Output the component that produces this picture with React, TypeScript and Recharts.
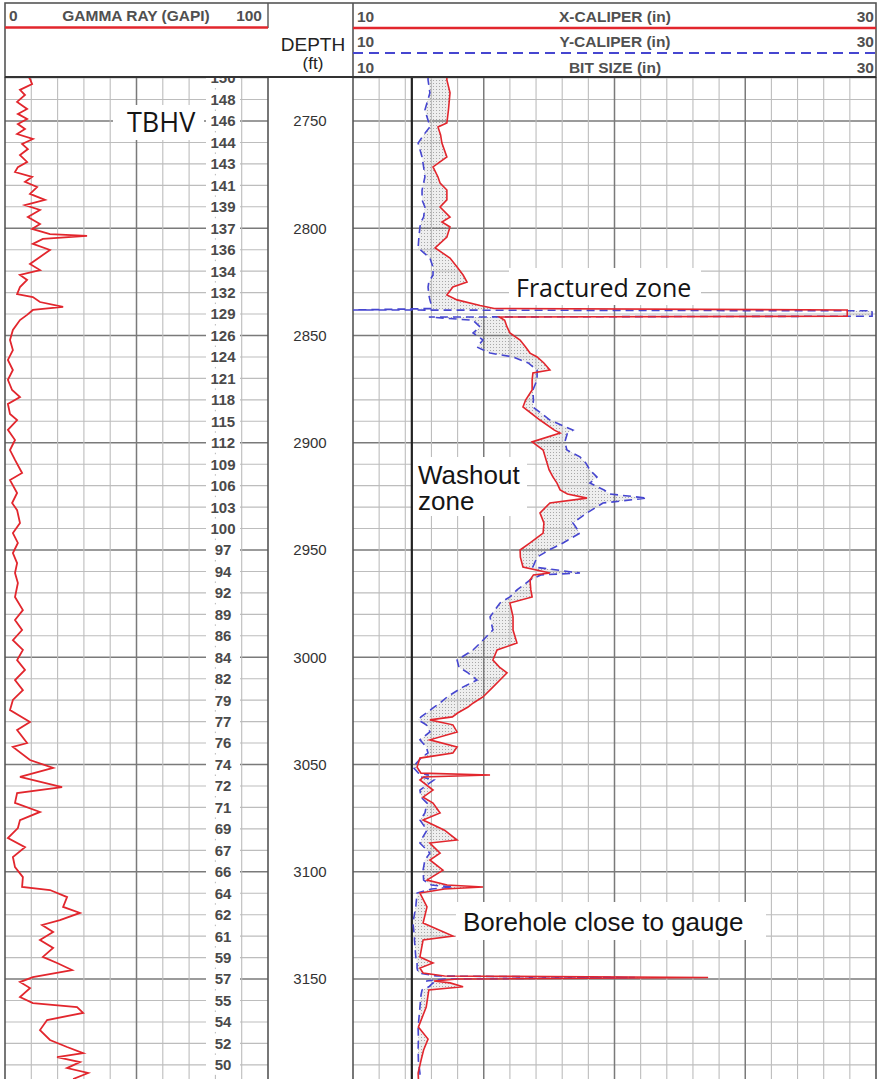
import { Area, ComposedChart, Line, ReferenceLine, XAxis, YAxis } from "recharts"

const RED = "#e2262d"
const BLUE = "#4646d0"
const THIN = "#bdbdbd"
const THICK = "#7a7a7a"
const BORDER = "#555555"
const SANS = "'Liberation Sans', Arial, sans-serif"
const OPEN = "'Open Sans', 'Liberation Sans', sans-serif"

const depthTop = 2729.5
const depthBottom = 3196.6
const bitSize = 12.25

// 10 ft grid, each line carries a TBHV reading
const gridDepths = [
  2730, 2740, 2750, 2760, 2770, 2780, 2790, 2800, 2810, 2820, 2830, 2840, 2850, 2860, 2870, 2880,
  2890, 2900, 2910, 2920, 2930, 2940, 2950, 2960, 2970, 2980, 2990, 3000, 3010, 3020, 3030, 3040,
  3050, 3060, 3070, 3080, 3090, 3100, 3110, 3120, 3130, 3140, 3150, 3160, 3170, 3180, 3190
]
const tbhvLabels = [
  150, 148, 146, 144, 143, 141, 139, 137, 136, 134, 132, 129, 126, 124, 121, 118,
  115, 112, 109, 106, 103, 100, 97, 94, 92, 89, 86, 84, 82, 79, 77, 76,
  74, 72, 71, 69, 67, 66, 64, 62, 61, 59, 57, 55, 54, 52, 50
]
const depthLabels = [2750, 2800, 2850, 2900, 2950, 3000, 3050, 3100, 3150]
const gammaTicks = [0, 10, 20, 30, 40, 50, 60, 70, 80, 90, 100]
const caliperTicks = [10, 11, 12, 13, 14, 15, 16, 17, 18, 19, 20, 21, 22, 23, 24, 25, 26, 27, 28, 29, 30]

// [depth ft, GAPI]
const gammaRay = [
  [2729.5, 9.0], [2730.4, 9.5], [2732.8, 10.3], [2735.5, 5.7], [2737.9, 7.6], [2741.1, 4.6],
  [2744.4, 8.4], [2746.7, 4.9], [2749.1, 8.4], [2751.4, 4.9], [2753.7, 7.6], [2756.1, 4.6],
  [2758.4, 10.6], [2760.7, 6.5], [2763.1, 8.7], [2765.9, 5.7], [2769.1, 8.4], [2771.5, 4.9],
  [2773.8, 3.8], [2776.1, 10.3], [2778.4, 7.6], [2780.8, 12.2], [2784.0, 9.5], [2786.8, 15.2],
  [2789.2, 7.6], [2791.5, 13.3], [2794.8, 8.7], [2798.0, 13.3], [2800.3, 10.3], [2802.7, 17.1],
  [2803.6, 31.2], [2805.0, 14.4], [2807.3, 10.6], [2810.1, 17.1], [2813.4, 13.3], [2816.7, 9.5],
  [2819.5, 13.3], [2821.8, 5.7], [2824.1, 8.4], [2827.4, 5.7], [2830.7, 4.6], [2832.1, 10.6],
  [2834.4, 13.3], [2836.7, 22.1], [2838.1, 10.6], [2840.4, 8.4], [2842.8, 5.7], [2847.4, 3.0],
  [2852.1, 1.9], [2856.8, 3.0], [2861.4, 1.1], [2866.1, 3.0], [2870.7, 1.1], [2875.4, 2.7],
  [2878.7, 5.7], [2881.9, 1.1], [2886.6, 1.9], [2889.4, 4.6], [2894.0, 1.1], [2898.7, 3.8],
  [2903.4, 1.9], [2908.0, 3.8], [2914.1, 6.5], [2917.4, 1.9], [2923.4, 4.6], [2928.1, 2.7],
  [2931.4, 4.6], [2937.4, 5.7], [2942.1, 3.0], [2946.7, 4.9], [2951.4, 3.0], [2956.1, 4.6],
  [2960.7, 3.8], [2965.4, 4.9], [2971.9, 3.8], [2978.0, 6.8], [2982.6, 3.8], [2987.3, 6.5],
  [2992.0, 3.0], [2996.6, 6.8], [3001.3, 4.6], [3005.9, 7.6], [3010.6, 3.8], [3015.3, 6.8],
  [3019.9, 3.0], [3024.6, 1.9], [3030.2, 9.5], [3033.9, 4.6], [3040.0, 8.4], [3041.8, 3.0],
  [3047.9, 9.5], [3051.6, 18.3], [3055.8, 5.7], [3060.5, 21.7], [3063.3, 4.6], [3067.9, 3.8],
  [3072.1, 13.3], [3075.9, 5.7], [3079.6, 4.9], [3084.3, 1.1], [3088.5, 7.6], [3093.1, 3.0],
  [3097.8, 3.8], [3102.5, 6.8], [3107.1, 6.5], [3108.5, 17.1], [3111.8, 23.6], [3116.4, 22.1],
  [3119.2, 28.5], [3122.5, 20.9], [3124.8, 14.1], [3128.1, 18.3], [3131.8, 13.3], [3135.5, 18.3],
  [3139.7, 14.4], [3142.5, 19.8], [3145.8, 25.5], [3149.1, 10.6], [3151.4, 5.7], [3154.2, 9.5],
  [3158.4, 5.7], [3161.2, 10.6], [3163.1, 27.4], [3165.8, 29.7], [3169.1, 16.0], [3173.8, 13.3],
  [3178.4, 17.1], [3181.7, 23.6], [3184.5, 29.7], [3186.4, 19.8], [3188.7, 28.5], [3191.5, 23.6],
  [3193.8, 31.6], [3196.6, 25.9]
]

// [depth ft, X-caliper in, Y-caliper in]
const caliper = [
  [2729.5, 13.59, 12.87], [2730.9, 13.59, 12.87], [2736.9, 13.71, 12.94], [2744.9, 13.65, 12.75],
  [2750.9, 13.59, 12.9], [2752.8, 13.25, 12.94], [2756.5, 13.35, 12.7], [2760.3, 13.4, 12.49],
  [2766.8, 13.59, 12.64], [2771.4, 13.06, 12.7], [2776.1, 13.25, 12.75], [2778.9, 13.33, 12.7],
  [2782.2, 13.59, 12.64], [2786.8, 13.59, 12.64], [2790.1, 13.33, 12.75], [2794.8, 13.71, 12.7],
  [2797.1, 13.4, 12.6], [2799.4, 13.71, 12.56], [2804.1, 13.59, 12.52], [2809.2, 13.14, 12.49],
  [2813.9, 13.71, 12.94], [2818.1, 13.98, 13.06], [2821.8, 14.21, 13.06], [2825.1, 14.36, 12.9],
  [2827.4, 13.82, 12.87], [2831.1, 13.59, 12.9], [2833.4, 13.98, 12.94], [2836.0, 14.86, 13.0],
  [2837.4, 15.4, 13.0], [2838.1, 28.9, 10.0], [2838.5, 28.9, 29.85], [2841.0, 28.9, 29.85],
  [2841.4, 15.6, 12.9], [2842.9, 15.8, 14.59], [2846.0, 15.89, 14.86], [2848.8, 16.0, 14.59],
  [2852.1, 16.39, 14.97], [2855.4, 16.6, 14.74], [2858.2, 16.77, 15.24], [2860.0, 17.04, 16.12],
  [2862.8, 17.3, 16.7], [2866.1, 17.53, 17.04], [2867.5, 16.88, 17.04], [2870.7, 16.85, 17.04],
  [2875.4, 16.85, 16.88], [2880.1, 16.6, 16.9], [2883.3, 16.5, 16.88], [2889.4, 17.15, 17.53],
  [2894.1, 17.7, 18.41], [2895.5, 17.92, 18.2], [2899.6, 16.85, 18.1], [2903.4, 17.27, 18.18],
  [2906.6, 17.35, 18.68], [2909.4, 17.42, 18.9], [2912.7, 17.5, 19.06], [2916.0, 17.65, 19.33],
  [2918.8, 17.8, 19.06], [2922.0, 17.92, 19.6], [2923.9, 18.2, 19.83], [2925.8, 18.95, 21.24],
  [2928.1, 17.53, 19.56], [2932.7, 17.15, 18.95], [2937.4, 17.3, 18.41], [2942.1, 17.27, 18.68],
  [2946.7, 16.77, 18.03], [2950.0, 16.39, 17.5], [2953.3, 16.4, 17.04], [2957.9, 16.5, 16.88],
  [2960.7, 17.53, 18.68], [2961.6, 16.9, 17.2], [2964.0, 16.77, 16.77], [2968.6, 16.8, 16.27],
  [2971.9, 16.85, 16.0], [2974.7, 16.0, 15.62], [2981.2, 16.12, 15.24], [2987.3, 16.12, 15.35],
  [2993.4, 16.27, 14.86], [2996.6, 15.51, 14.59], [3001.3, 15.35, 13.98], [3004.6, 15.6, 14.05],
  [3007.3, 15.89, 14.4], [3010.6, 15.62, 14.74], [3013.9, 15.35, 14.2], [3018.5, 14.97, 13.6],
  [3021.3, 14.6, 13.33], [3023.2, 14.4, 13.1], [3026.0, 14.0, 12.8], [3027.8, 13.8, 12.6],
  [3029.2, 12.94, 12.5], [3031.5, 13.82, 12.8], [3034.8, 13.98, 12.94], [3038.5, 12.94, 12.56],
  [3041.8, 13.98, 12.8], [3044.6, 13.82, 12.87], [3047.0, 12.56, 12.6], [3051.2, 12.45, 12.29],
  [3054.0, 12.6, 12.5], [3054.9, 15.24, 12.9], [3055.8, 12.7, 12.6], [3057.2, 12.56, 13.1],
  [3061.9, 13.06, 12.56], [3065.2, 12.68, 12.6], [3068.0, 13.06, 12.83], [3072.6, 13.33, 12.75],
  [3075.9, 12.68, 12.56], [3080.6, 13.5, 12.83], [3085.2, 13.98, 12.6], [3086.6, 12.94, 12.56],
  [3091.3, 13.33, 12.94], [3094.5, 12.94, 12.75], [3099.2, 13.44, 12.68], [3103.9, 12.83, 12.7],
  [3106.2, 13.6, 13.0], [3107.1, 14.97, 13.82], [3108.0, 13.5, 13.0], [3109.9, 12.56, 12.45],
  [3116.4, 12.83, 12.4], [3123.9, 12.68, 12.29], [3130.0, 13.82, 12.35], [3131.8, 12.68, 12.35],
  [3139.7, 12.56, 12.4], [3142.5, 13.06, 12.45], [3144.9, 12.56, 12.45], [3147.2, 12.68, 12.5],
  [3148.6, 13.5, 13.2], [3149.3, 23.58, 20.78], [3150.0, 14.0, 13.5], [3150.9, 13.1, 12.8],
  [3151.8, 13.71, 13.06], [3153.6, 14.21, 12.9], [3155.1, 12.9, 12.64], [3157.5, 12.87, 12.6],
  [3163.1, 12.8, 12.56], [3172.4, 12.5, 12.49], [3178.0, 12.87, 12.5], [3183.1, 12.7, 12.49],
  [3188.0, 12.6, 12.5], [3193.8, 12.49, 12.56], [3196.6, 12.5, 12.56]
]

const gammaData = gammaRay.map(([depth, gr]) => ({ depth, gr }))
const caliperData = caliper.map(([depth, x, y]) => ({ depth, x, y }))

function TbhvTick(props: any) {
  const { x, y, payload } = props
  const label = tbhvLabels[gridDepths.indexOf(payload.value)]
  return (
    <g>
      <rect x={x - 62} y={y - 10} width={34} height={20} fill="#fff" />
      <text x={x - 45} y={y} dy="0.36em" textAnchor="middle" fontFamily={SANS} fontSize={15} fontWeight="bold" fill="#4a4a4a">
        {label}
      </text>
    </g>
  )
}

function DepthTick(props: any) {
  const { x, y, payload } = props
  return (
    <text x={x - 43} y={y} dy="0.36em" textAnchor="middle" fontFamily={SANS} fontSize={15} fill="#333">
      {payload.value}
    </text>
  )
}

function gridStyle(isEdge: boolean, isMajor: boolean) {
  if (isEdge) return { stroke: BORDER, strokeWidth: 1.6 }
  if (isMajor) return { stroke: THICK, strokeWidth: 1.5 }
  return { stroke: THIN, strokeWidth: 1.1 }
}

function GammaTrack() {
  return (
    <ComposedChart width={273} height={1002} data={gammaData} layout="vertical" margin={{ top: 0, right: 5, bottom: 0, left: 5 }}>
      <XAxis type="number" domain={[0, 100]} hide />
      <YAxis type="number" dataKey="depth" domain={[depthTop, depthBottom]} allowDataOverflow hide />
      {gridDepths.map((d) => (
        <ReferenceLine key={"h" + d} y={d} {...gridStyle(false, d % 50 === 0)} />
      ))}
      {gammaTicks.map((v) => (
        <ReferenceLine key={"v" + v} x={v} {...gridStyle(v === 0 || v === 100, v === 50)} />
      ))}
      <YAxis
        yAxisId="tbhv"
        orientation="right"
        mirror
        type="number"
        dataKey="depth"
        domain={[depthTop, depthBottom]}
        allowDataOverflow
        ticks={gridDepths}
        interval={0}
        tick={TbhvTick}
        tickLine={false}
        axisLine={false}
        tickSize={0}
        tickMargin={0}
      />
      <Line type="linear" dataKey="gr" stroke={RED} strokeWidth={1.8} dot={false} isAnimationActive={false} />
    </ComposedChart>
  )
}

function CaliperTrack() {
  return (
    <ComposedChart width={612} height={1002} data={caliperData} layout="vertical" margin={{ top: 0, right: 4, bottom: 0, left: 0 }}>
      <defs>
        <pattern id="stipple" width={3} height={3} patternUnits="userSpaceOnUse">
          <rect width={3} height={3} fill="#eeeeee" />
          <rect width={1} height={1} fill="#a8a8a8" />
        </pattern>
      </defs>
      <XAxis type="number" domain={[10, 30]} allowDataOverflow hide />
      <YAxis
        type="number"
        dataKey="depth"
        domain={[depthTop, depthBottom]}
        allowDataOverflow
        ticks={depthLabels}
        interval={0}
        width={85}
        tick={DepthTick}
        tickLine={false}
        axisLine={false}
        tickSize={0}
        tickMargin={0}
      />
      {gridDepths.map((d) => (
        <ReferenceLine key={"h" + d} y={d} {...gridStyle(false, d % 50 === 0)} />
      ))}
      {caliperTicks.map((v) => (
        <ReferenceLine key={"v" + v} x={v} {...gridStyle(v === 10 || v === 30, v % 5 === 0)} />
      ))}
      <Area
        type="linear"
        dataKey={(d: any) => [d.y, d.x]}
        fill="url(#stipple)"
        stroke="none"
        fillOpacity={1}
        isAnimationActive={false}
      />
      <ReferenceLine x={bitSize} stroke="#222" strokeWidth={2.2} />
      <Line type="linear" dataKey="y" stroke={BLUE} strokeWidth={1.6} strokeDasharray="8 5" dot={false} isAnimationActive={false} />
      <Line type="linear" dataKey="x" stroke={RED} strokeWidth={1.6} dot={false} isAnimationActive={false} />
    </ComposedChart>
  )
}

function Header() {
  return (
    <g fontFamily={SANS}>
      <rect x={5} y={3} width={871} height={74} fill="none" stroke={BORDER} strokeWidth={1.6} />
      <line x1={268} y1={3} x2={268} y2={28} stroke={BORDER} strokeWidth={1.4} />
      <line x1={5} y1={27.5} x2={268} y2={27.5} stroke={RED} strokeWidth={2.5} />
      <line x1={353} y1={3} x2={353} y2={77} stroke={BORDER} strokeWidth={1.6} />
      <line x1={353} y1={28} x2={876} y2={28} stroke={RED} strokeWidth={2.5} />
      <line x1={353} y1={53} x2={876} y2={53} stroke={BLUE} strokeWidth={2} strokeDasharray="10 6" />
      <line x1={5} y1={77} x2={876} y2={77} stroke="#333" strokeWidth={2} />

      <g fontSize={15.5} fontWeight="bold" fill="#505050">
        <text x={9} y={21}>0</text>
        <text x={136} y={21} textAnchor="middle">GAMMA RAY (GAPI)</text>
        <text x={262} y={21} textAnchor="end">100</text>

        <text x={357} y={22}>10</text>
        <text x={615} y={22} textAnchor="middle">X-CALIPER (in)</text>
        <text x={874} y={22} textAnchor="end">30</text>

        <text x={357} y={47}>10</text>
        <text x={615} y={47} textAnchor="middle">Y-CALIPER (in)</text>
        <text x={874} y={47} textAnchor="end">30</text>

        <text x={357} y={73}>10</text>
        <text x={615} y={73} textAnchor="middle">BIT SIZE (in)</text>
        <text x={874} y={73} textAnchor="end">30</text>
      </g>

      <text x={313} y={51} textAnchor="middle" fontSize={19} fill="#222">DEPTH</text>
      <text x={313} y={69} textAnchor="middle" fontSize={17} fill="#222">(ft)</text>
    </g>
  )
}

function Notes() {
  return (
    <g fill="#151515">
      <rect x={113} y={105} width={91} height={35} fill="#fff" />
      <text x={127} y={132} fontFamily={OPEN} fontSize={27}>TBHV</text>

      <rect x={509} y={268} width={192} height={37} fill="#fff" />
      <text x={516} y={297} fontFamily={OPEN} fontSize={25}>Fractured zone</text>

      <rect x={413} y={457} width={114} height={59} fill="#fff" />
      <text x={418} y={484} fontFamily={SANS} fontSize={26}>
        <tspan x={418}>Washout</tspan>
        <tspan x={418} dy={26}>zone</tspan>
      </text>

      <rect x={456} y={902} width={310} height={38} fill="#fff" />
      <text x={463} y={931} fontFamily={SANS} fontSize={26}>Borehole close to gauge</text>
    </g>
  )
}

export default function App() {
  return (
    <div style={{ position: "absolute", left: 0, top: 0, width: 880, height: 1079, background: "#fff", overflow: "hidden" }}>
      <div style={{ position: "absolute", left: 0, top: 77 }}>
        <GammaTrack />
      </div>
      <div style={{ position: "absolute", left: 268, top: 77 }}>
        <CaliperTrack />
      </div>
      <svg width={880} height={1079} style={{ position: "absolute", left: 0, top: 0, pointerEvents: "none" }}>
        <Header />
        <Notes />
      </svg>
    </div>
  )
}
